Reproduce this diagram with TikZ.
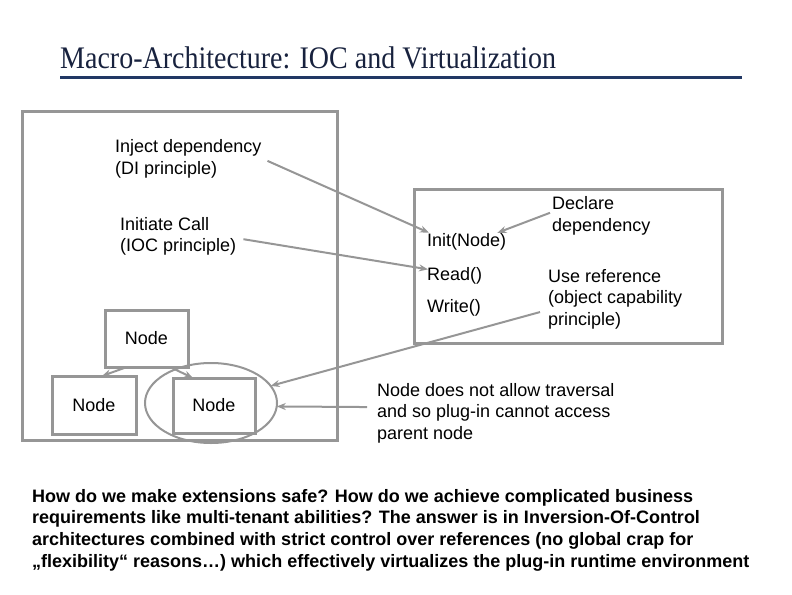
\documentclass[tikz,border=0pt]{standalone}
\usepackage{fontspec}
\usepackage{graphicx}
\setmainfont{Liberation Sans}
\newfontfamily\titlefont{Liberation Serif}
\usetikzlibrary{arrows.meta,shapes.geometric}

\definecolor{slateblue}{RGB}{33,56,100}
\definecolor{titleink}{RGB}{24,34,62}
\definecolor{wire}{RGB}{150,150,150}

\tikzset{
    frame/.style={draw=wire, line width=3pt, inner sep=0pt, outer sep=0pt},
    label/.style={anchor=base west, inner sep=0pt, align=left},
    link/.style={draw=wire, line width=2pt, -{Stealth[length=9pt,width=7pt]}}
}

\begin{document}
\begin{tikzpicture}[x=1pt, y=-1pt, font=\fontsize{18}{21.7}\selectfont]
        \useasboundingbox (0,0) rectangle (792,594);

        % title and rule
        \node[anchor=base west, inner sep=0pt, text=titleink] (title) at (60,69)
            {\scalebox{1}[1.12]{\titlefont\fontsize{28}{30}\selectfont Macro-Architecture: IOC and Virtualization}};
        \draw[slateblue, line width=3.5pt] (60,77.5) -- (742,77.5);

        % host and component
        \node[frame, minimum width=315, minimum height=329] (host) at (179.5,275.5) {};
        \node[frame, minimum width=308, minimum height=154] (component) at (568,266) {};

        % node tree
        \foreach \name/\x/\y/\w/\h in {
            parent/146.5/338.5/83/57,
            sibling/94/405/84/58,
            plugin/214/405.5/82/55
        } {
            \node[frame, minimum width=\w, minimum height=\h] (\name) at (\x,\y) {Node};
        }
        \node[draw=wire, line width=2pt, ellipse, minimum width=132, minimum height=80,
            inner sep=0pt, outer sep=0pt] (ell) at (211,403) {};

        % interface methods
        \foreach \name/\y/\method in {
            init/246/Init(Node),
            read/280/Read(),
            write/312/Write()
        } {
            \node[label] (\name) at (427,\y) {\method};
        }

        % annotations (base = last line)
        \node[label] (inject) at (115,174.4) {Inject dependency\\(DI principle)};
        \node[label] (initiate) at (120,251.7) {Initiate Call\\(IOC principle)};
        \node[label] (declare) at (552,231.3) {Declare\\dependency};
        \node[label] (useref) at (548,325.4) {Use reference\\(object capability\\principle)};
        \node[label] (traversal) at (377,439.4) {Node does not allow traversal\\and so plug-in cannot access\\parent node};

        \node[label, font=\bfseries\fontsize{18}{21.7}\selectfont] (summary) at (32,567.1)
            {How do we make extensions safe? How do we achieve complicated business\\
             requirements like multi-tenant abilities? The answer is in Inversion-Of-Control\\
             architectures combined with strict control over references (no global crap for\\
             „flexibility“ reasons…) which effectively virtualizes the plug-in runtime environment};

        % connectors
        \draw[link] ([shift={(6,2)}]inject.east) -- ([xshift=2pt]init.north west);
        \draw[link] ([shift={(7,3)}]initiate.east) -- ([shift={(1,-6)}]read.west);
        \draw[link] ([shift={(-2,-3)}]declare.west) -- ([xshift=-9pt]init.north east);
        \draw[link] ([shift={(-8,13)}]useref.west) -- (ell.16);
        \draw[link] ([shift={(-10,-6)}]traversal.west) -- (ell.-3);
        \draw[link] ([xshift=-19.5pt]parent.south) -- ([xshift=8pt]sibling.north);
        \draw[link] ([xshift=23.5pt]parent.south) -- ([xshift=-21pt]plugin.north);
    \end{tikzpicture}
\end{document}
